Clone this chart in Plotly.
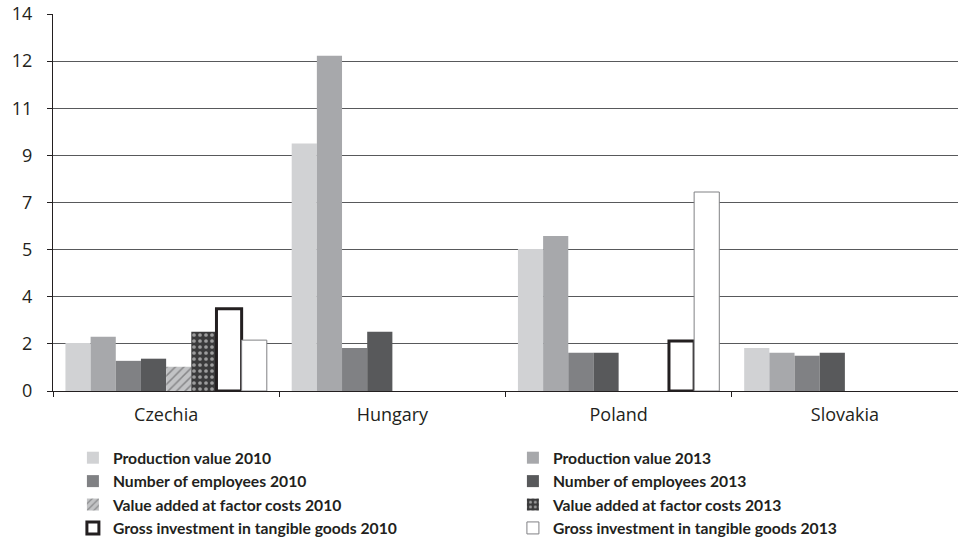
import plotly.graph_objects as go

countries = ["Czechia", "Hungary", "Poland", "Slovakia"]

series_names = [
    "Production value 2010",
    "Production value 2013",
    "Number of employees 2010",
    "Number of employees 2013",
    "Value added at factor costs 2010",
    "Value added at factor costs 2013",
    "Gross investment in tangible goods 2010",
    "Gross investment in tangible goods 2013",
]

production_2010 = [1.78, 9.19, 5.27, 1.60]
production_2013 = [2.01, 12.45, 5.76, 1.42]
employees_2010 = [1.12, 1.60, 1.42, 1.31]
employees_2013 = [1.20, 2.20, 1.42, 1.42]
value_added_2010 = [0.90, None, None, None]
value_added_2013 = [2.20, None, None, None]
investment_2010 = [3.05, None, 1.86, None]
investment_2013 = [1.89, None, 7.39, None]

tick_values = [0, 1.75, 3.5, 5.25, 7, 8.75, 10.5, 12.25, 14]
tick_labels = ["0", "2", "4", "5", "7", "9", "11", "12", "14"]

all_values = [production_2010, production_2013, employees_2010, employees_2013,
              value_added_2010, value_added_2013, investment_2010, investment_2013]

styles = [
    dict(color="#d1d2d4", line=dict(width=0)),
    dict(color="#a7a8ab", line=dict(width=0)),
    dict(color="#808184", line=dict(width=0)),
    dict(color="#58595b", line=dict(width=0)),
    dict(color="#c2c3c5", line=dict(width=0),
         pattern=dict(shape="/", fgcolor="#4a4a4c", bgcolor="#c2c3c5", size=6, solidity=0.25)),
    dict(color="#3a3a3b", line=dict(width=0),
         pattern=dict(shape=".", fgcolor="#ffffff", bgcolor="#3a3a3b", size=6, solidity=0.3)),
    dict(color="#ffffff", line=dict(width=3, color="#231f20")),
    dict(color="#ffffff", line=dict(width=1, color="#808184")),
]

fig = go.Figure()
for name, vals, st in zip(series_names, all_values, styles):
    fig.add_trace(go.Bar(name=name, x=countries, y=vals, marker=st))

fig.update_layout(
    width=958, height=545,
    margin=dict(l=53, r=0, t=14, b=153),
    paper_bgcolor="white", plot_bgcolor="white",
    barmode="group", bargap=0.11, bargroupgap=0,
    font=dict(family="Open Sans", color="#231f20", size=15),
    showlegend=True,
    legend=dict(
        orientation="h", x=0.022, xanchor="left", y=-0.132, yanchor="top",
        entrywidth=395, entrywidthmode="pixels",
        font=dict(size=15.7, family="Lato", color="#231f20", weight="bold"),
        traceorder="normal", tracegroupgap=0, borderwidth=0,
    ),
    xaxis=dict(
        range=[-0.5, 3.5], showline=True, linecolor="#231f20", linewidth=1,
        ticks="outside", tickson="boundaries", ticklen=5, tickcolor="#231f20",
        tickfont=dict(size=18, family="Open Sans"), showgrid=False,
        automargin=False, ticklabelstandoff=7,
    ),
    yaxis=dict(
        range=[0, 14], tickvals=tick_values, ticktext=tick_labels,
        showline=True, linecolor="#231f20", linewidth=1,
        ticks="outside", ticklen=5, tickcolor="#231f20",
        showgrid=True, gridcolor="#58595b", gridwidth=1,
        zeroline=False, tickfont=dict(size=18, family="Open Sans"),
        automargin=False, ticklabelstandoff=11,
    ),
)

fig.write_html("out.html", config={"displayModeBar": False},
               post_script="document.body.style.margin='0';")
